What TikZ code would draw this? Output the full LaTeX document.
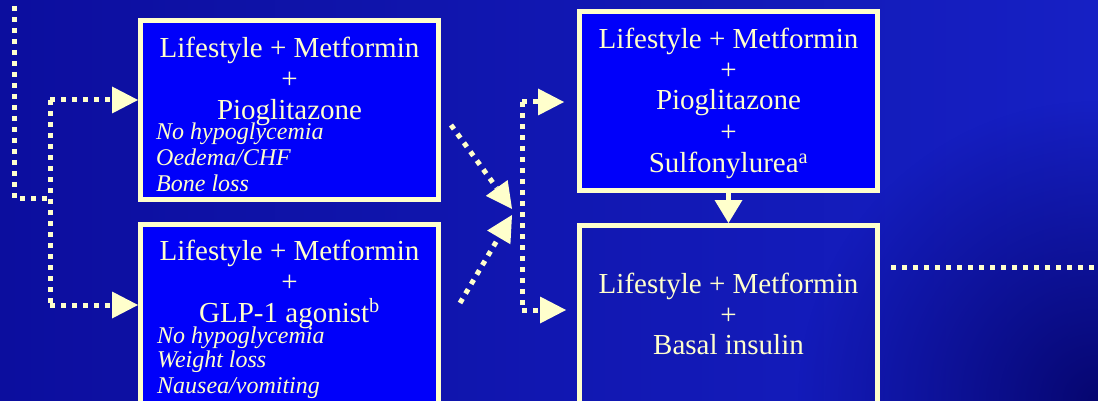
\documentclass[tikz,border=0pt]{standalone}
\usepackage{fontspec}
\setmainfont{Liberation Serif}
\usetikzlibrary{arrows.meta,fadings}
\definecolor{cream}{RGB}{255,255,204}
\definecolor{boxblue}{RGB}{0,0,250}
\definecolor{bgleft}{RGB}{12,14,158}
\definecolor{bgright}{RGB}{22,32,196}
\definecolor{bgdark}{RGB}{6,6,112}
\tikzfading[name=fadeout, inner color=transparent!0, outer color=transparent!100]
\begin{document}
\begin{tikzpicture}[x=1pt,y=-1pt,
  box/.style={draw=cream, line width=5pt, outer sep=2.5pt, minimum width=298pt, inner sep=0pt, anchor=north west},
  filled/.style={fill=boxblue},
  main/.style={text=cream, font=\fontsize{29}{31}\selectfont, anchor=base, inner sep=0pt},
  note/.style={text=cream, font=\fontsize{24}{26}\selectfont\itshape, anchor=base west, inner sep=0pt},
  dotline/.style={draw=cream, line width=5pt, dash pattern=on 5pt off 6pt},
  tip/.style={-{Triangle[length=26pt,width=27pt,line width=0pt]}},
]
\useasboundingbox (0,0) rectangle (1098,401);
\clip (0,0) rectangle (1098,401);
\shade[left color=bgleft, right color=bgright] (0,0) rectangle (1098,401);
\fill[bgdark, path fading=fadeout] (1098,401) circle (300);

% boxes
\node[box, filled, minimum height=179pt] (b1) at (138,18.3) {};
\node[box, filled, minimum height=178.8pt] (b2) at (138,221.7) {};
\node[box, filled, minimum height=179pt] (b3) at (577,9) {};
\node[box, minimum height=200pt] (b4) at (577,223) {};

% box 1 text
\node[main] (t11) at (289.5,57.3) {Lifestyle + Metformin};
\node[main] (t12) at (289.5,88.8) {+};
\node[main] (t13) at (289.5,119.3) {Pioglitazone};
\node[note] (n11) at (156,140) {No hypoglycemia};
\node[note] (n12) at (156,166) {Oedema/CHF};
\node[note] (n13) at (156,192) {Bone loss};

% box 2 text
\node[main] (t21) at (289.5,260) {Lifestyle + Metformin};
\node[main] (t22) at (289.5,291) {+};
\node[main] (t23) at (289.5,322) {GLP-1 agonist\textsuperscript{b}};
\node[note] (n21) at (157,343) {No hypoglycemia};
\node[note] (n22) at (157,367.5) {Weight loss};
\node[note] (n23) at (157,393) {Nausea/vomiting};

% box 3 text
\node[main] (t31) at (728.5,49) {Lifestyle + Metformin};
\node[main] (t32) at (728.5,79.5) {+};
\node[main] (t33) at (728.5,110) {Pioglitazone};
\node[main] (t34) at (728.5,141.5) {+};
\node[main] (t35) at (728.5,172.5) {Sulfonylurea\textsuperscript{a}};

% box 4 text
\node[main] (t41) at (728.5,293) {Lifestyle + Metformin};
\node[main] (t42) at (728.5,324) {+};
\node[main] (t43) at (728.5,354) {Basal insulin};

% left connectors
\coordinate (tl) at (14,-5);
\coordinate (j2) at (50,198);
\coordinate (ja) at (50,100);
\coordinate (jb) at (50,305);
\draw[dotline] (tl) |- (j2);
\draw[dotline] (ja) -- (jb);
\draw[dotline, tip] (ja) -- (ja -| b1.west);
\draw[dotline, tip] (jb) -- (jb -| b2.west);

% diagonal connectors
\coordinate (d1) at (451,125);
\coordinate (dx1) at (512,209);
\coordinate (d2) at (460,303);
\coordinate (dx2) at (512,215);
\draw[dotline, tip] (d1) -- (dx1);
\draw[dotline, tip] (d2) -- (dx2);

% middle connectors
\coordinate (ma) at (522,102);
\coordinate (mb) at (522,310);
\draw[dotline] (ma) -- (mb);
\draw[dotline, tip, shorten >=13pt] (ma) -- (ma -| b3.west);
\draw[dotline, tip, shorten >=11pt] (mb) -- (mb -| b4.west);

% box 3 to box 4
\draw[cream, line width=5pt, -{Triangle[length=23pt,width=28pt,line width=0pt]}] (b3.south) -- (b4.north);

% right connector
\coordinate (re) at (1105,267);
\draw[dotline, shorten <=11pt] (b4.east |- re) -- (re);
\end{tikzpicture}
\end{document}
